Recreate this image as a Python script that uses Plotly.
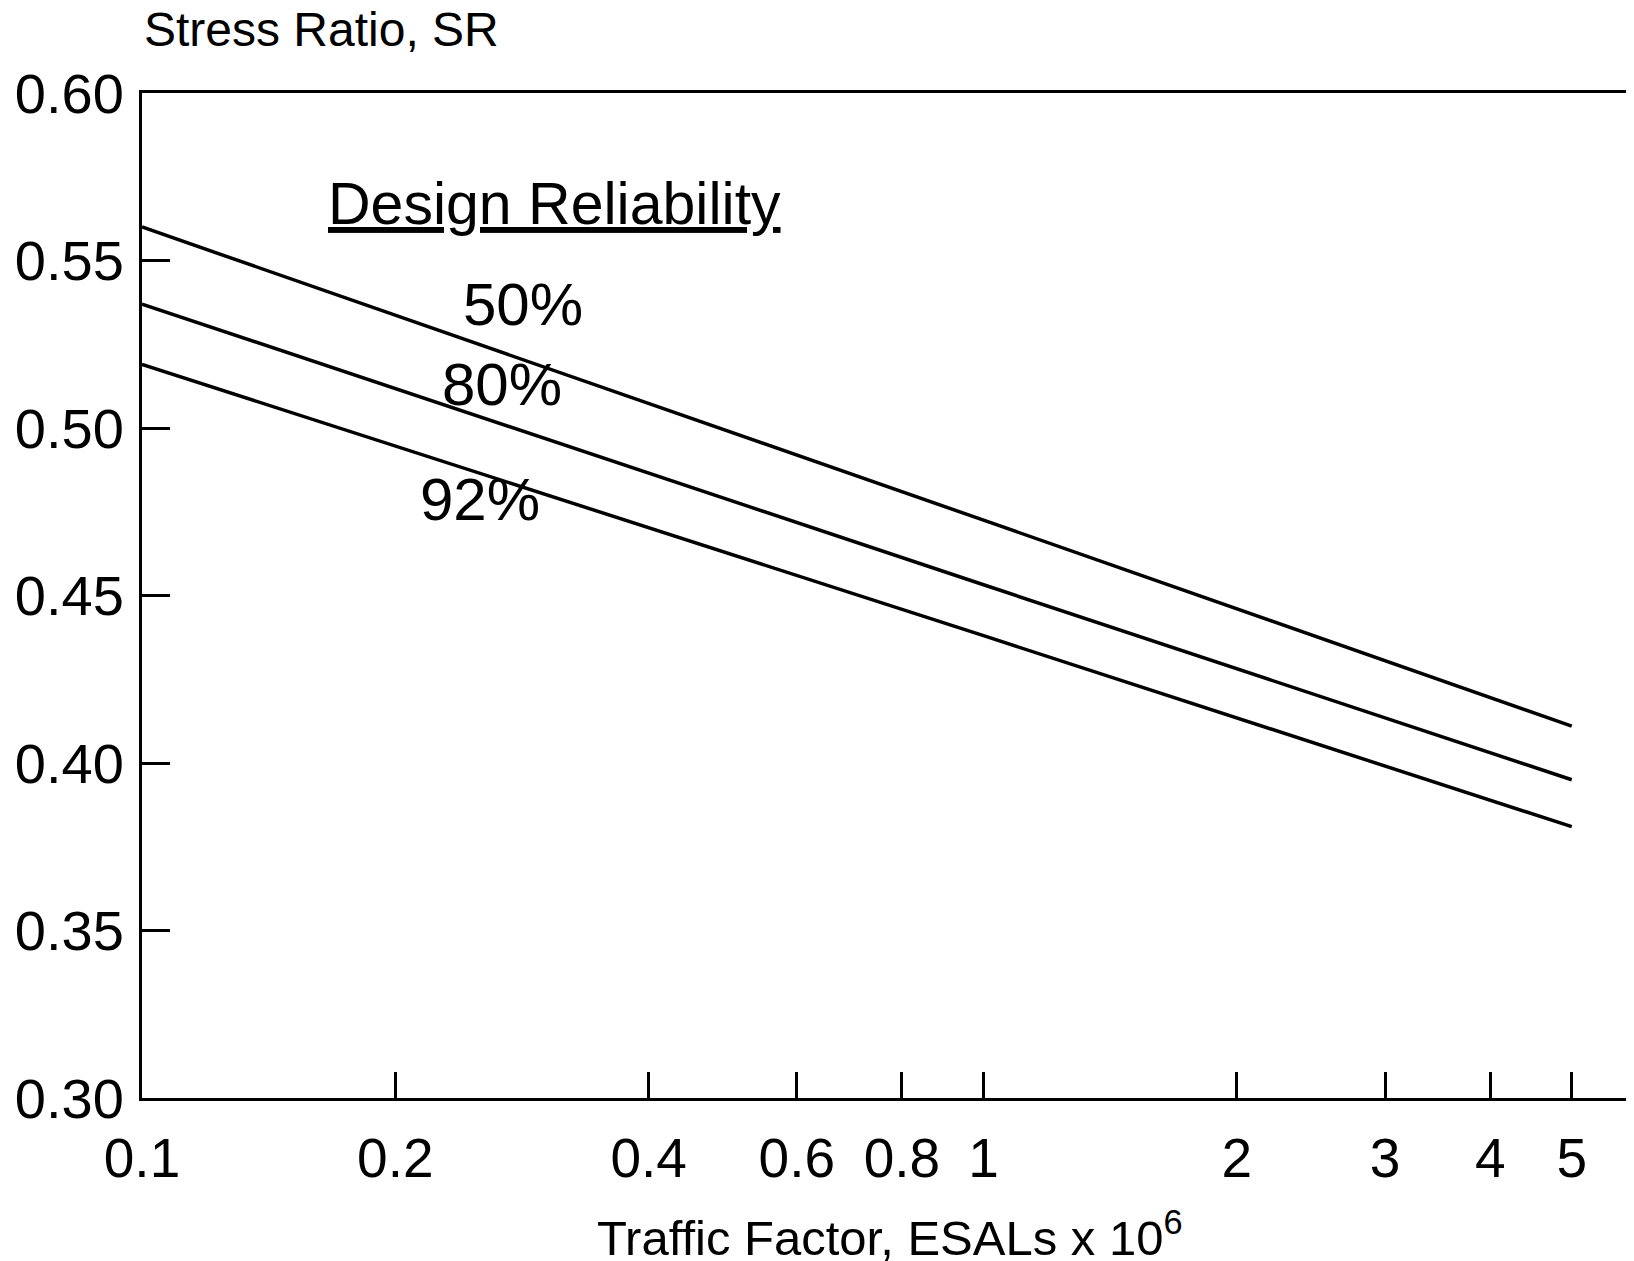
import math
import plotly.graph_objects as go

# Data
traffic = [0.1, 1.0, 5.0]  # ESALs x 10^6
sr_50 = [0.560, 0.4725, 0.411]
sr_80 = [0.537, 0.4532, 0.395]
sr_92 = [0.519, 0.438, 0.381]
series = [("50%", sr_50), ("80%", sr_80), ("92%", sr_92)]

# label anchor positions (data coords)
label_x = [0.2835, 0.2676, 0.2518]
label_y = [0.537, 0.513, 0.4788]

x_tickvals = [0.1, 0.2, 0.4, 0.6, 0.8, 1, 2, 3, 4, 5]
x_ticktext = ["0.1", "0.2", "0.4", "0.6", "0.8", "1", "2", "3", "4", "5"]
y_tickvals = [0.30, 0.35, 0.40, 0.45, 0.50, 0.55, 0.60]
y_ticktext = ["0.30", "0.35", "0.40", "0.45", "0.50", "0.55", "0.60"]

FONT = "Liberation Sans"

W, H = 1626, 1253
L, T, PH, PW = 134, 85, 1005, 1490

fig = go.Figure()
for name, vals in series:
    fig.add_trace(go.Scatter(x=traffic, y=vals, mode="lines", name=name,
                             line=dict(color="black", width=3.5), showlegend=False))

for (name, _), lx, ly in zip(series, label_x, label_y):
    fig.add_annotation(x=math.log10(lx), y=ly, text=name, showarrow=False,
                       xanchor="center", yanchor="middle",
                       font=dict(family=FONT, size=60, color="black"))

fig.add_annotation(x=math.log10(0.309), y=0.567, text="<u>Design Reliability</u>",
                   showarrow=False, xanchor="center", yanchor="middle",
                   font=dict(family=FONT, size=59, color="black"))

fig.add_annotation(xref="paper", yref="paper", x=0, xanchor="left",
                   y=1 + (T - 22) / PH, yanchor="middle",
                   text="Stress Ratio, SR", showarrow=False,
                   font=dict(family=FONT, size=48, color="black"))
fig.add_annotation(xref="paper", yref="paper", x=(884 - L) / PW, xanchor="center",
                   y=-(1226 - (T + PH)) / PH, yanchor="middle",
                   text="Traffic Factor, ESALs x 10<sup>6</sup>", showarrow=False,
                   font=dict(family=FONT, size=49, color="black"))

fig.update_xaxes(type="log", range=[-1, 0.767], tickvals=x_tickvals, ticktext=x_ticktext,
                 ticks="inside", ticklen=26, tickwidth=2.5, tickcolor="black",
                 showline=True, linewidth=3, linecolor="black", mirror=True,
                 showgrid=False, zeroline=False, ticklabelstandoff=10,
                 tickfont=dict(family=FONT, size=55, color="black"))
fig.update_yaxes(range=[0.30, 0.60], tickvals=y_tickvals, ticktext=y_ticktext,
                 ticks="inside", ticklen=28, tickwidth=2.5, tickcolor="black",
                 showline=True, linewidth=3, linecolor="black", mirror=True,
                 showgrid=False, zeroline=False, ticklabelstandoff=4,
                 tickfont=dict(family=FONT, size=56, color="black"))

fig.update_layout(width=W, height=H,
                  margin=dict(l=L, r=W - L - PW, t=T, b=H - T - PH),
                  plot_bgcolor="white", paper_bgcolor="white")

fig.write_html("out.html")
